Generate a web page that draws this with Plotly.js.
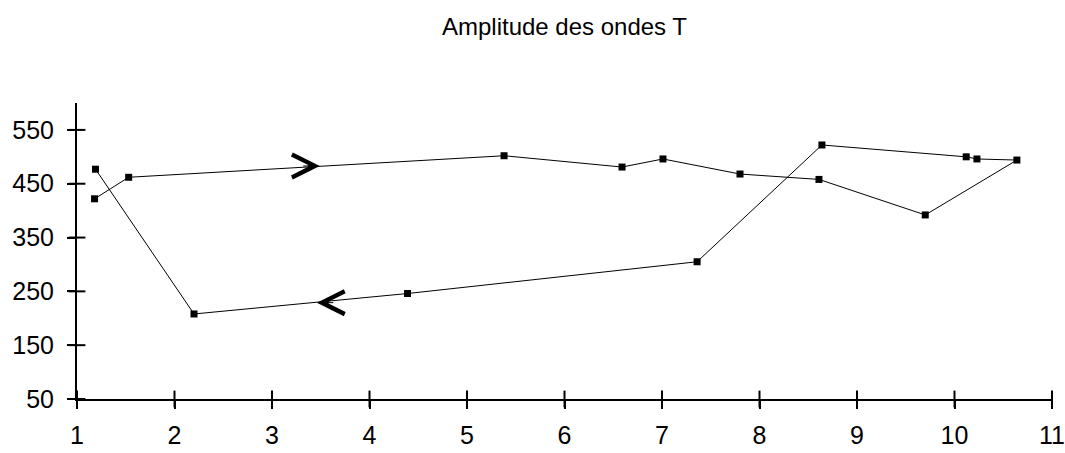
<!DOCTYPE html>
<html>
<head>
<meta charset="utf-8">
<script src="https://cdn.plot.ly/plotly-3.0.1.min.js"></script>
<style>html,body{margin:0;padding:0;background:#fff;}#chart{width:1065px;height:453px;}</style>
</head>
<body>
<div id="chart"></div>
<script>
// Path of the loop, in drawing order
const xValues = [1.18, 1.53, 5.38, 6.59, 7.01, 7.80, 8.61, 9.70, 10.64, 10.23, 10.12, 8.64, 7.36, 4.39, 2.20, 1.19];
const yValues = [422, 462, 502, 481, 496, 468, 458, 392, 494, 496, 500, 522, 305, 246, 208, 477];

// Direction arrows along the loop
const arrowX = [3.49, 3.46];
const arrowY = [483, 229];
const arrowDir = [1, -1]; // 1 = pointing right, -1 = pointing left

const xTicks = [1, 2, 3, 4, 5, 6, 7, 8, 9, 10, 11];
const yTicks = [50, 150, 250, 350, 450, 550];
const titleText = 'Amplitude des ondes T';

const FONT = 'Liberation Sans, Arial, sans-serif';
const X_MIN = 1, X_MAX = 11, Y_MIN = 50, Y_MAX = 600;
const TICK_SIZE = 12;

const tickMarker = sym => ({
  symbol: sym, size: TICK_SIZE, color: '#000',
  line: {color: '#000', width: 2}
});

const traces = [
  // inner halves of the crossing ticks (outer halves come from the axes)
  { x: xTicks, y: xTicks.map(() => Y_MIN), type: 'scatter', mode: 'markers',
    marker: tickMarker('line-ns'), cliponaxis: false, hoverinfo: 'skip', showlegend: false },
  { x: yTicks.map(() => X_MIN), y: yTicks, type: 'scatter', mode: 'markers',
    marker: tickMarker('line-ew'), cliponaxis: false, hoverinfo: 'skip', showlegend: false },
  {
    x: xValues, y: yValues, type: 'scatter', mode: 'lines+markers',
    line: {color: '#000', width: 1},
    marker: {symbol: 'square', size: 7, color: '#000'},
    hoverinfo: 'skip', showlegend: false
  }
];

const annotations = arrowX.map((ax, i) => ({
  x: ax, y: arrowY[i], xref: 'x', yref: 'y',
  showarrow: true, text: '',
  ax: -18 * arrowDir[i], ay: 0,
  arrowhead: 5, arrowsize: 4.5, arrowwidth: 1, arrowcolor: '#000'
}));

const layout = {
  width: 1065, height: 453,
  margin: {l: 77, r: 13, t: 103, b: 54},
  paper_bgcolor: '#fff', plot_bgcolor: '#fff',
  title: {text: titleText, font: {family: FONT, size: 24, color: '#000'},
          x: 0.5, xref: 'paper', y: 1 - 27/453, yref: 'container', yanchor: 'middle'},
  showlegend: false,
  xaxis: {
    range: [X_MIN, X_MAX], tickvals: xTicks, showgrid: false, zeroline: false,
    showline: true, linecolor: '#000', linewidth: 2,
    ticks: 'outside', ticklen: 8, tickwidth: 2, tickcolor: '#000',
    ticklabelstandoff: 5,
    tickfont: {family: FONT, size: 25, color: '#000'}
  },
  yaxis: {
    range: [Y_MIN, Y_MAX], tickvals: yTicks, showgrid: false, zeroline: false,
    showline: true, linecolor: '#000', linewidth: 2,
    ticks: 'outside', ticklen: 8, tickwidth: 2, tickcolor: '#000',
    ticklabelstandoff: 8,
    tickfont: {family: FONT, size: 25, color: '#000'}
  },
  annotations: annotations
};

Plotly.newPlot('chart', traces, layout, {displayModeBar: false, staticPlot: true});
</script>
</body>
</html>
